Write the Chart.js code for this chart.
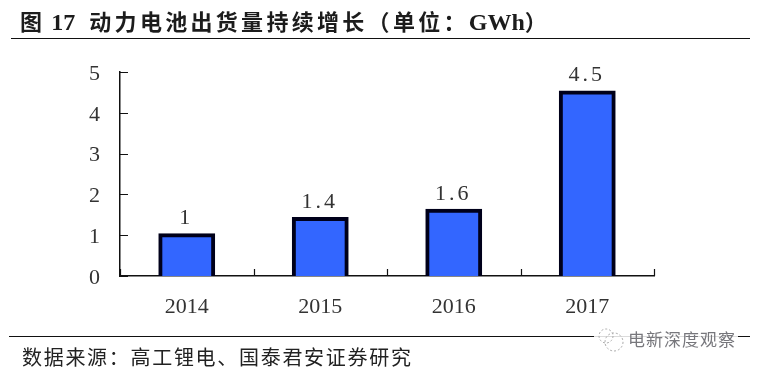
<!DOCTYPE html>
<html>
<head>
<meta charset="utf-8">
<script src="https://cdn.jsdelivr.net/npm/chart.js@4/dist/chart.umd.min.js"></script>
<style>
    html, body { margin: 0; padding: 0; background: #fff; }
    #page { position: relative; width: 759px; height: 372px; overflow: hidden; }
    #cv { position: absolute; left: 0; top: 0; }
    .rule { position: absolute; height: 1.5px; background: #111; }
    #title {
        position: absolute; left: 20px; top: 4px; white-space: nowrap;
        font: bold 22px "Noto Sans CJK SC"; letter-spacing: 3.3px; color: #1c1c1c;
    }
    #title span { font: bold 24px "Liberation Serif"; letter-spacing: 0; }
    #source {
        position: absolute; left: 22px; top: 343px; white-space: nowrap;
        font: 20px "Noto Sans CJK SC"; line-height: 28px; letter-spacing: 1.7px; color: #222;
    }
    #mark {
        position: absolute; left: 594px; top: 325px; padding: 2px 2px 2px 34px; white-space: nowrap;
        font: 17px "Noto Sans CJK SC"; line-height: 24px; letter-spacing: 1px; color: #77777c;
        background: rgba(255,255,255,0.85);
    }
    #mark svg { position: absolute; left: 2px; top: 2px; }
</style>
</head>
<body>
<div id="page">
    <canvas id="cv" width="759" height="372"></canvas>
    <div id="title">图<span style="margin:0 14px 0 6px">17</span>动力电池出货量持续增长（单位：<span>GWh</span>）</div>
    <div class="rule" style="left:11px;top:37.5px;width:739px"></div>
    <div class="rule" style="left:9px;top:335.5px;width:741px"></div>
    <div id="source">数据来源：高工锂电、国泰君安证券研究</div>
    <div id="mark">
        <svg width="30" height="26" fill="none" stroke="#aaa" stroke-width="1" stroke-dasharray="2 2">
            <circle cx="10" cy="9" r="7"></circle>
            <circle cx="18" cy="15" r="9"></circle>
        </svg>电新深度观察</div>
</div>
<script>
const years = ['2014', '2015', '2016', '2017'];
const shipments = [1, 1.4, 1.6, 4.5];
const yTicks = [0, 1, 2, 3, 4, 5];

document.addEventListener('DOMContentLoaded', function() {
    const numFont = '22px "Liberation Serif"';

    // ticks point inward in the original, chart.js only draws them outward
    const inwardTicks = {
        id: 'inwardTicks',
        afterDatasetsDraw(chart) {
            const { ctx, scales: { x, y }, chartArea } = chart;
            ctx.save();
            ctx.strokeStyle = '#111';
            ctx.lineWidth = 1.2;
            ctx.beginPath();
            yTicks.forEach(v => {
                const py = Math.round(y.getPixelForValue(v)) + 0.5;
                ctx.moveTo(chartArea.left, py);
                ctx.lineTo(chartArea.left + 8, py);
            });
            for (let i = 0; i <= years.length; i++) {
                const px = Math.round(x.getPixelForTick(0) + (i - 0.5) * (x.getPixelForTick(1) - x.getPixelForTick(0))) + 0.5;
                ctx.moveTo(px, chartArea.bottom);
                ctx.lineTo(px, chartArea.bottom - 7);
            }
            ctx.stroke();
            ctx.restore();
        }
    };

    const barLabels = {
        id: 'barLabels',
        afterDatasetsDraw(chart) {
            const { ctx } = chart;
            ctx.save();
            ctx.font = numFont;
            ctx.fillStyle = '#333';
            ctx.textAlign = 'center';
            ctx.textBaseline = 'bottom';
            ctx.letterSpacing = '3px';
            chart.getDatasetMeta(0).data.forEach((bar, i) => {
                ctx.fillText(String(shipments[i]), bar.x - 0.5, bar.y - 6);
            });
            ctx.restore();
        }
    };

    new Chart(document.getElementById('cv').getContext('2d'), {
        type: 'bar',
        data: {
            labels: years,
            datasets: [{
                data: shipments,
                backgroundColor: '#3366ff',
                borderColor: '#00001a',
                borderWidth: 4,
                inflateAmount: 2,
                categoryPercentage: 1,
                barPercentage: 0.396
            }]
        },
        options: {
            responsive: false,
            animation: false,
            layout: { padding: { top: 72, right: 105, left: 0, bottom: 0 } },
            plugins: { legend: { display: false }, tooltip: { enabled: false } },
            scales: {
                x: {
                    afterFit: scale => { scale.height = 96; },
                    border: { color: '#111', width: 1.5 },
                    grid: { display: false },
                    ticks: { color: '#333', font: { family: 'Liberation Serif', size: 22 }, padding: 10, maxRotation: 0 }
                },
                y: {
                    min: 0,
                    max: 5,
                    afterFit: scale => { scale.width = 120; },
                    border: { color: '#111', width: 1.5 },
                    grid: { display: false },
                    ticks: { color: '#333', font: { family: 'Liberation Serif', size: 22 }, stepSize: 1, padding: 12, labelOffset: 2 }
                }
            }
        },
        plugins: [inwardTicks, barLabels]
    });
});
</script>
</body>
</html>
